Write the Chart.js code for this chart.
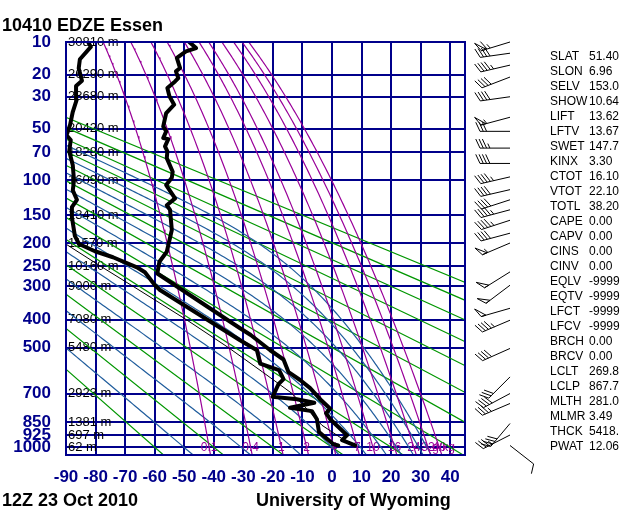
<!DOCTYPE html>
<html>
<head>
<meta charset="utf-8">
<script src="https://cdn.jsdelivr.net/npm/chart.js@4.4.0/dist/chart.umd.min.js"></script>
<style>
  body { margin: 0; background: #fff; }
  #wrap { position: relative; width: 640px; height: 512px; font-family: "Liberation Sans", Arial, sans-serif; }
  #c { position: absolute; left: 0; top: 0; }
  .big { position: absolute; font-weight: bold; font-size: 18px; line-height: 18px; color: #000; white-space: nowrap; }
  #stats { position: absolute; left: 550px; top: 49px; font-size: 12px; line-height: 15px; color: #000; white-space: nowrap; }
  #stats span { display: inline-block; width: 39px; }
</style>
</head>
<body>
<div id="wrap">
  <canvas id="c" width="640" height="512"></canvas>
  <div class="big" style="left:2px; top:16px">10410 EDZE Essen</div>
  <div class="big" style="left:2px; top:491px">12Z 23 Oct 2010</div>
  <div class="big" style="left:256px; top:491px">University of Wyoming</div>
  <div id="stats"></div>
</div>
<script>
const KAPPA = 0.286;
const NAVY = '#00008b';
const GREEN = '#009600';
const BLUE = '#1f5c9c';
const PURPLE = '#990099';

// axes
const pressureLevels = [10, 20, 30, 50, 70, 100, 150, 200, 250, 300, 400, 500, 700, 850, 925, 1000];
const heightLabels = ['30810 m', '26290 m', '23680 m', '20420 m', '18280 m', '16090 m', '13410 m', '11570 m',
  '10160 m', '9000 m', '7080 m', '5480 m', '2923 m', '1381 m', '697 m', '62 m'];
const tempTicks = [-90, -80, -70, -60, -50, -40, -30, -20, -10, 0, 10, 20, 30, 40];

// background lines of the diagram
const dryAdiabats = [-60, -40, -20, 0, 20, 40, 60, 80, 100, 120, 140, 160, 180];   // theta, C
const moistAdiabats = [-50, -30, -10, 10, 30, 50, 70, 90, 110, 130];             // theta-e, C
const mixingRatios = [0.1, 0.4, 1, 2, 4, 7, 10, 16, 24, 32, 40];                  // g/kg

// sounding (hPa, C), surface upward
const tempP = [989, 956, 926, 834, 801, 777, 728, 674, 636, 601, 547, 510, 453, 429, 268, 240, 218, 175, 141, 134,
  124, 106, 97, 90, 75.5, 69, 64.4, 58.2, 57.3, 52, 48.3, 39.3, 34.3, 29.8, 25.7, 22.8, 21.4, 18.8, 17.6, 14.3, 12.4, 11.5, 10];
const tempT = [7.8, 3.4, 5.1, -0.6, -2.0, -0.6, -4.0, -7.4, -10.8, -14.7, -16.4, -20.9, -27.5, -31.1, -59.1, -58.4, -55.9, -54.2, -54.8, -55.9,
  -53.1, -56.1, -54.2, -53.9, -55.9, -55.7, -56.5, -55.4, -57.1, -56.1, -57.1, -56.1, -53.4, -55.0, -55.7, -53.1, -52.0, -52.8, -51.4, -52.5, -49.4, -46.0, -48.3];

const dewP = [989, 981, 908, 834, 790, 772, 746, 728, 716, 655, 632, 592, 564, 510, 472, 311, 298, 265, 253, 230,
  217, 202, 186, 153, 137, 126, 113, 100, 83, 69, 59, 55, 47, 38.5, 31.7, 24.8, 22.5, 17.7, 14.7, 11.2, 10];
const dewT = [2.1, 0.5, -4.4, -5.1, -6.8, -14.2, -6.0, -11.9, -20.1, -18.1, -16.4, -17.9, -24.3, -25.4, -31.1, -58.2, -59.9, -63.3, -66.0, -74.1,
  -80.2, -85.6, -87.0, -88.0, -88.0, -86.3, -87.7, -87.3, -87.7, -88.9, -88.4, -89.8, -88.6, -87.7, -86.4, -86.6, -84.6, -85.7, -85.3, -81.6, -82.5];

const parcelP = [989, 868, 800, 700, 600, 500, 400, 300, 250, 203];
const parcelT = [6.9, -3.4, -7.2, -13.5, -23.5, -35.0, -49.3, -67.5, -78.4, -89.8];

// winds
const windP = [989, 925, 858, 750, 700, 622, 503, 402, 364, 298, 264, 200, 181, 158, 141, 126, 112, 96, 81, 66, 52, 42, 30, 21, 16.6, 12.9, 10];
const windDir = [128, 243, 220, 247, 242, 225, 246, 247, 254, 233, 238, 247, 255, 252, 255, 252, 257, 257, 270, 270, 270, 255, 262, 249, 257, 262, 253];
const windKt = [10, 35, 40, 35, 40, 30, 40, 45, 50, 50, 50, 55, 40, 45, 45, 40, 40, 45, 40, 35, 30, 55, 40, 40, 45, 40, 65];

// station parameters
const statNames = ['SLAT', 'SLON', 'SELV', 'SHOW', 'LIFT', 'LFTV', 'SWET', 'KINX', 'CTOT', 'VTOT', 'TOTL', 'CAPE', 'CAPV', 'CINS',
  'CINV', 'EQLV', 'EQTV', 'LFCT', 'LFCV', 'BRCH', 'BRCV', 'LCLT', 'LCLP', 'MLTH', 'MLMR', 'THCK', 'PWAT'];
const statValues = ['51.40', '6.96', '153.0', '10.64', '13.62', '13.67', '147.7', '3.30', '16.10', '22.10', '38.20', '0.00', '0.00', '0.00',
  '0.00', '-9999', '-9999', '-9999', '-9999', '0.00', '0.00', '269.8', '867.7', '281.0', '3.49', '5418.', '12.06'];

const stats = document.getElementById('stats');
statNames.forEach((n, i) => {
  const row = document.createElement('div');
  const a = document.createElement('span');
  a.textContent = n;
  row.appendChild(a);
  row.appendChild(document.createTextNode(statValues[i]));
  stats.appendChild(row);
});

const py = p => Math.pow(p, KAPPA);

function satMix(tK, p) {
  const tc = tK - 273.15;
  if (tc < -150) return 0;
  const es = 6.112 * Math.exp(17.67 * tc / (tc + 243.5));
  return 0.622 * es / (p - es);
}
function moistSlope(tK, p) {
  const rs = satMix(tK, p);
  return (287 * tK + 2.501e6 * rs) / (1003.5 + 2.501e6 * 2.501e6 * rs * 0.622 / (287 * tK * tK));
}
function moistLine(thC) {
  const pts = [];
  const step = 0.004;
  let p = 10, t = (thC + 273.15) * Math.pow(p / 1000, KAPPA), n = 0;
  while (p < 1050) {
    if (n % 4 === 0) pts.push({x: t - 273.15, y: py(p)});
    const k1 = moistSlope(t, p);
    const k2 = moistSlope(t + k1 * step / 2, p * Math.exp(step / 2));
    t += k2 * step; p *= Math.exp(step); n++;
  }
  pts.push({x: t - 273.15, y: py(p)});
  return pts;
}
function dryLine(thC) {
  return [10, 1050].map(p => ({x: (thC + 273.15) * Math.pow(p / 1000, KAPPA) - 273.15, y: py(p)}));
}
function mixT(w, p) {
  const a = Math.log(w * p / (622 + w) / 6.112);
  return 243.5 * a / (17.67 - a);
}
function mixLine(w) {
  const pts = [];
  for (let p = 10; p < 1050; p *= 1.04) pts.push({x: mixT(w, p), y: py(p)});
  pts.push({x: mixT(w, 1050), y: py(1050)});
  return pts;
}
const profile = (ps, ts) => ps.map((p, i) => ({x: ts[i], y: py(p)}));

const line = (data, color, width) => ({data, borderColor: color, borderWidth: width, showLine: true,
  pointRadius: 0, tension: 0, borderJoinStyle: 'round', borderCapStyle: 'round'});

const datasets = [
  line(profile(tempP, tempT), '#000', 4),
  line(profile(dewP, dewT), '#000', 4),
  line(profile(parcelP, parcelT), '#000', 1),
  ...mixingRatios.map(w => line(mixLine(w), PURPLE, 1.2)),
  ...moistAdiabats.map(t => line(moistLine(t), BLUE, 1.2)),
  ...dryAdiabats.map(t => line(dryLine(t), GREEN, 1.2)),
];

const decor = {
  id: 'decor',
  beforeDatasetsDraw(chart) {
    const {ctx, chartArea: a, scales: {x, y}} = chart;
    ctx.save();
    ctx.font = '13px "Liberation Sans", Arial, sans-serif';
    ctx.fillStyle = '#000';
    ctx.textBaseline = 'middle';
    ctx.textAlign = 'left';
    pressureLevels.forEach((p, i) => ctx.fillText(heightLabels[i], a.left + 2, y.getPixelForValue(py(p))));
    const y1000 = y.getPixelForValue(py(1000));
    ctx.font = '12px "Liberation Sans", Arial, sans-serif';
    ctx.fillStyle = PURPLE;
    ctx.textAlign = 'center';
    mixingRatios.forEach(w => ctx.fillText(String(w), x.getPixelForValue(mixT(w, 1000)), y1000));
    ctx.textAlign = 'left';
    ctx.fillText('g/kg', x.getPixelForValue(mixT(40, 1000)) - 7, y1000);
    ctx.restore();
  },
  afterDatasetsDraw(chart) {
    const {ctx, chartArea: a} = chart;
    ctx.save();
    ctx.strokeStyle = NAVY;
    ctx.lineWidth = 2;
    ctx.strokeRect(a.left, a.top, a.right - a.left, a.bottom - a.top);
    ctx.restore();
  },
  afterDraw(chart) {
    const {ctx, scales: {y}} = chart;
    ctx.save();
    ctx.strokeStyle = '#000';
    ctx.lineWidth = 1;
    windP.forEach((p, i) => drawBarb(ctx, 510, y.getPixelForValue(py(p)), windDir[i], windKt[i]));
    ctx.restore();
  }
};

function drawBarb(ctx, x0, y0, dir, kt) {
  const r = dir * Math.PI / 180;
  const ux = Math.sin(r), uy = -Math.cos(r);
  const L = 30;
  const tx = x0 + ux * L, ty = y0 + uy * L;
  ctx.beginPath(); ctx.moveTo(x0, y0); ctx.lineTo(tx, ty); ctx.stroke();
  const ang = 25 * Math.PI / 180, fl = 10;
  const fx = (-uy * Math.cos(ang) + ux * Math.sin(ang)) * fl;
  const fy = (ux * Math.cos(ang) + uy * Math.sin(ang)) * fl;
  let s = Math.round(kt / 5) * 5, pos = 0;
  while (s >= 50) {
    const bx = tx - ux * pos, by = ty - uy * pos;
    ctx.beginPath();
    ctx.moveTo(bx, by); ctx.lineTo(bx + fx, by + fy); ctx.lineTo(bx - ux * 5, by - uy * 5);
    ctx.closePath(); ctx.stroke();
    pos += 6; s -= 50;
  }
  while (s >= 10) {
    const bx = tx - ux * pos, by = ty - uy * pos;
    ctx.beginPath(); ctx.moveTo(bx, by); ctx.lineTo(bx + fx, by + fy); ctx.stroke();
    pos += 3.3; s -= 10;
  }
  if (s >= 5) {
    if (pos === 0) pos = 3.3;
    const bx = tx - ux * pos, by = ty - uy * pos;
    ctx.beginPath(); ctx.moveTo(bx, by); ctx.lineTo(bx + fx / 2, by + fy / 2); ctx.stroke();
  }
}

new Chart(document.getElementById('c'), {
  type: 'scatter',
  data: {datasets},
  plugins: [decor],
  options: {
    responsive: false,
    animation: false,
    events: [],
    layout: {padding: {left: 0, top: 42, right: 175, bottom: 0}},
    plugins: {legend: {display: false}, tooltip: {enabled: false}},
    scales: {
      x: {
        type: 'linear', min: -90, max: 45,
        afterBuildTicks: s => { s.ticks = tempTicks.map(v => ({value: v})); },
        afterFit: s => { s.height = 57; },
        grid: {color: NAVY, lineWidth: 2, drawTicks: false},
        border: {display: false},
        ticks: {color: NAVY, font: {family: '"Liberation Sans", Arial, sans-serif', size: 17, weight: 'bold'},
          padding: 12, autoSkip: false, maxRotation: 0, minRotation: 0}
      },
      y: {
        type: 'linear', reverse: true, min: py(10), max: py(1050),
        afterBuildTicks: s => { s.ticks = pressureLevels.map(p => ({value: py(p)})); },
        afterFit: s => { s.width = 66; },
        grid: {color: NAVY, lineWidth: 2, drawTicks: false},
        border: {display: false},
        ticks: {color: NAVY, font: {family: '"Liberation Sans", Arial, sans-serif', size: 17, weight: 'bold'},
          padding: 15, callback: v => String(Math.round(Math.pow(v, 1 / KAPPA)))}
      }
    }
  }
});
</script>
</body>
</html>
